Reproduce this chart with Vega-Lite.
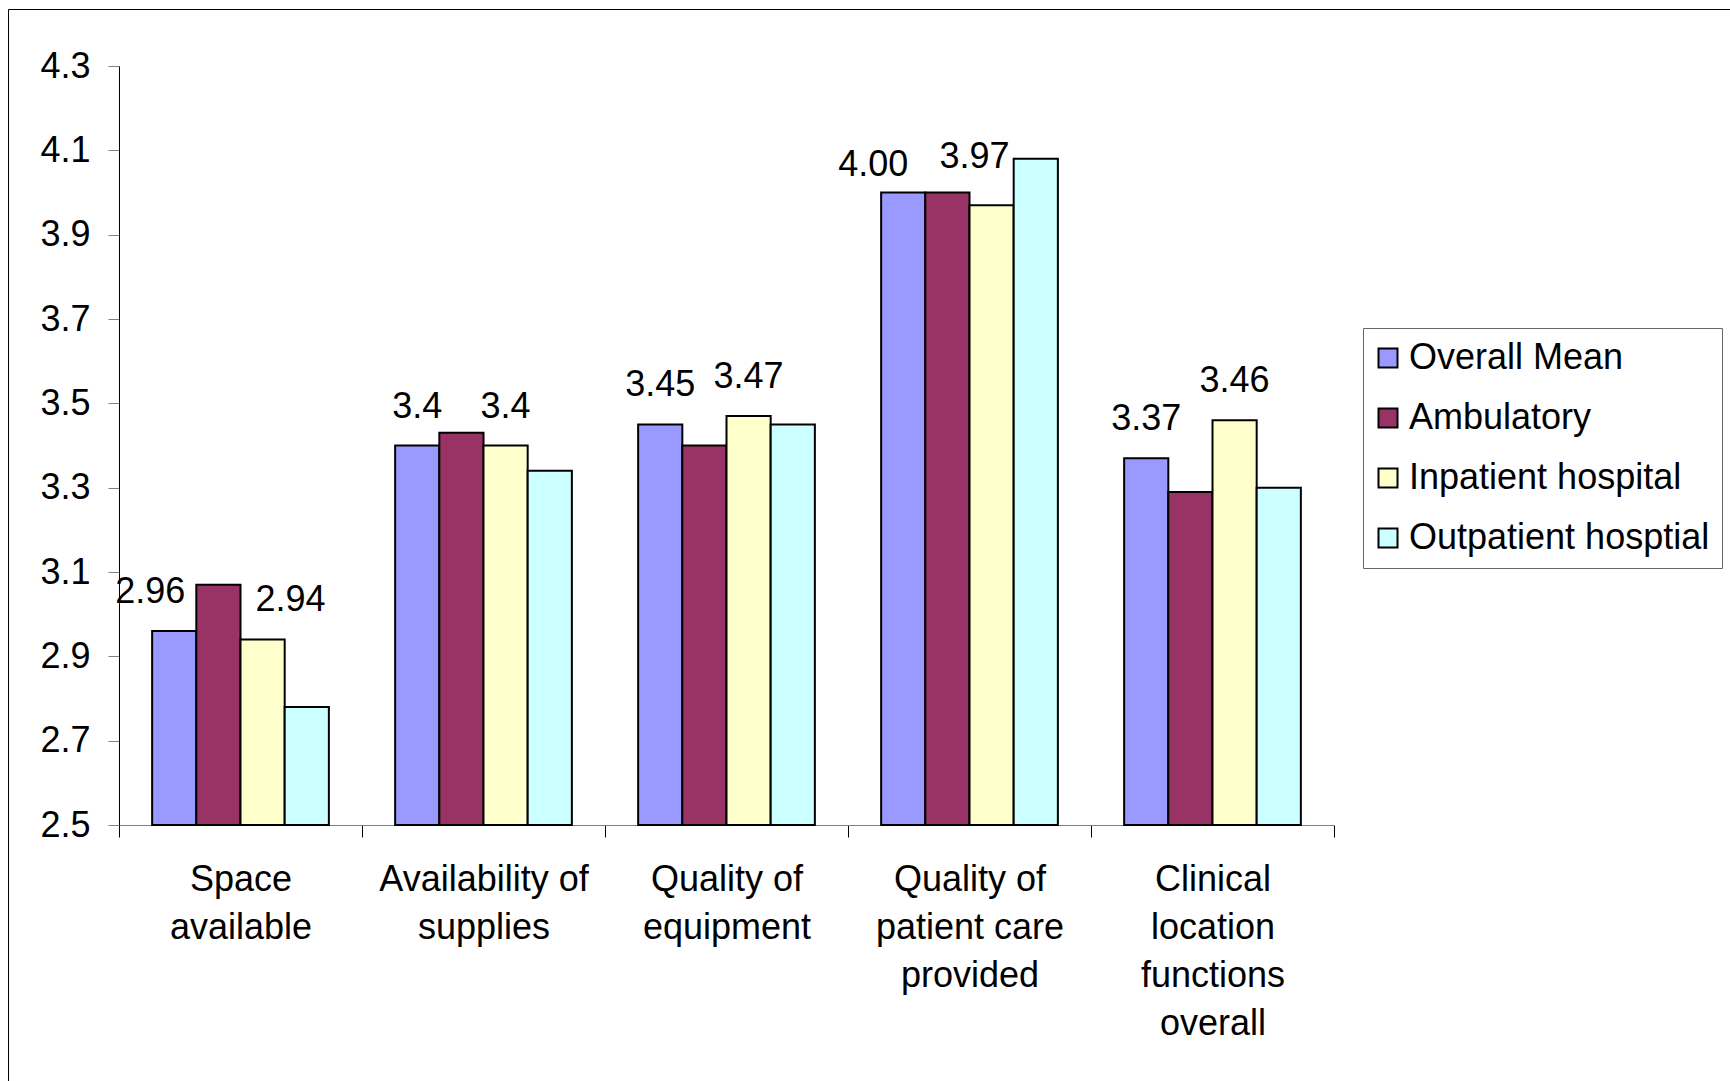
{
  "$schema": "https://vega.github.io/schema/vega-lite/v6.json",
  "autosize": {"type": "none"},
  "padding": {"left": 8, "top": 9, "right": -10, "bottom": -10},
  "width": 1732,
  "height": 1082,
  "background": "white",
  "config": {
    "view": {"stroke": "black", "strokeWidth": 1},
    "font": "Liberation Sans",
    "axis": {"grid": false, "labelFont": "Liberation Sans", "labelFontSize": 36, "labelColor": "black"},
    "text": {"font": "Liberation Sans", "fontSize": 36, "color": "black"}
  },
  "data": {
    "values": [
      {"Category": "Space|available", "Series": "Overall Mean", "Value": 2.96, "Label": "2.96"},
      {"Category": "Space|available", "Series": "Ambulatory", "Value": 3.07, "Label": null},
      {"Category": "Space|available", "Series": "Inpatient hospital", "Value": 2.94, "Label": "2.94"},
      {"Category": "Space|available", "Series": "Outpatient hosptial", "Value": 2.78, "Label": null},
      {"Category": "Availability of|supplies", "Series": "Overall Mean", "Value": 3.40, "Label": "3.4"},
      {"Category": "Availability of|supplies", "Series": "Ambulatory", "Value": 3.43, "Label": null},
      {"Category": "Availability of|supplies", "Series": "Inpatient hospital", "Value": 3.40, "Label": "3.4"},
      {"Category": "Availability of|supplies", "Series": "Outpatient hosptial", "Value": 3.34, "Label": null},
      {"Category": "Quality of|equipment", "Series": "Overall Mean", "Value": 3.45, "Label": "3.45"},
      {"Category": "Quality of|equipment", "Series": "Ambulatory", "Value": 3.40, "Label": null},
      {"Category": "Quality of|equipment", "Series": "Inpatient hospital", "Value": 3.47, "Label": "3.47"},
      {"Category": "Quality of|equipment", "Series": "Outpatient hosptial", "Value": 3.45, "Label": null},
      {"Category": "Quality of|patient care|provided", "Series": "Overall Mean", "Value": 4.00, "Label": "4.00"},
      {"Category": "Quality of|patient care|provided", "Series": "Ambulatory", "Value": 4.00, "Label": null},
      {"Category": "Quality of|patient care|provided", "Series": "Inpatient hospital", "Value": 3.97, "Label": "3.97"},
      {"Category": "Quality of|patient care|provided", "Series": "Outpatient hosptial", "Value": 4.08, "Label": null},
      {"Category": "Clinical|location|functions|overall", "Series": "Overall Mean", "Value": 3.37, "Label": "3.37"},
      {"Category": "Clinical|location|functions|overall", "Series": "Ambulatory", "Value": 3.29, "Label": null},
      {"Category": "Clinical|location|functions|overall", "Series": "Inpatient hospital", "Value": 3.46, "Label": "3.46"},
      {"Category": "Clinical|location|functions|overall", "Series": "Outpatient hosptial", "Value": 3.30, "Label": null}
    ]
  },
  "encoding": {
    "x": {
      "field": "Category", "type": "nominal", "sort": null,
      "scale": {"range": [111, 1326], "paddingInner": 0, "paddingOuter": 0},
      "axis": {
        "title": null, "labelAngle": 0, "labelExpr": "split(datum.label, '|')",
        "tickBand": "extent", "tickSize": 12, "tickColor": "black", "domainColor": "#808080",
        "labelPadding": 25, "labelLineHeight": 48, "offset": -266, "labelLimit": 500
      }
    },
    "xOffset": {
      "field": "Series", "type": "nominal",
      "sort": ["Overall Mean", "Ambulatory", "Inpatient hospital", "Outpatient hosptial"],
      "scale": {"paddingInner": 0, "paddingOuter": 0.75}
    },
    "y": {
      "field": "Value", "type": "quantitative",
      "scale": {"domain": [2.5, 4.3], "range": [816, 57], "zero": false, "nice": false},
      "axis": {
        "title": null, "values": [2.5, 2.7, 2.9, 3.1, 3.3, 3.5, 3.7, 3.9, 4.1, 4.3], "format": ".1f",
        "tickSize": 11, "tickColor": "#808080", "domainColor": "black", "labelPadding": 18, "offset": -111
      }
    }
  },
  "layer": [
    {
      "mark": {"type": "bar", "stroke": "black", "strokeWidth": 2},
      "encoding": {
        "y2": {"datum": 2.5},
        "color": {
          "field": "Series", "type": "nominal",
          "scale": {"domain": ["Overall Mean", "Ambulatory", "Inpatient hospital", "Outpatient hosptial"], "range": ["#9999FF", "#993366", "#FFFFCC", "#CCFFFF"]},
          "legend": {
            "orient": "none", "legendX": 1355, "legendY": 319, "title": null, "direction": "vertical",
            "strokeColor": "#666666", "fillColor": "white", "padding": 12,
            "symbolType": "square", "symbolSize": 361, "symbolStrokeColor": "black", "symbolStrokeWidth": 2, "symbolOpacity": 1, "symbolOffset": -5,
            "labelFont": "Liberation Sans", "labelFontSize": 36, "labelColor": "black", "labelLimit": 600, "labelOffset": 3, "rowPadding": 24
          }
        }
      }
    },
    {
      "transform": [{"filter": "datum.Label != null && datum.Label != '2.96' && datum.Label != '2.94' && datum.Label != '4.00' && datum.Label != '3.97'"}],
      "mark": {"type": "text", "dy": -28, "baseline": "alphabetic", "align": "center"},
      "encoding": {"text": {"field": "Label"}}
    },
    {
      "transform": [{"filter": "datum.Label == '2.96'"}],
      "mark": {"type": "text", "dx": -24, "dy": -28, "baseline": "alphabetic", "align": "center"},
      "encoding": {"text": {"field": "Label"}}
    },
    {
      "transform": [{"filter": "datum.Label == '2.94'"}],
      "mark": {"type": "text", "dx": 28, "dy": -28, "baseline": "alphabetic", "align": "center"},
      "encoding": {"text": {"field": "Label"}}
    },
    {
      "transform": [{"filter": "datum.Label == '4.00'"}],
      "mark": {"type": "text", "dx": -30, "dy": -17, "baseline": "alphabetic", "align": "center"},
      "encoding": {"text": {"field": "Label"}}
    },
    {
      "transform": [{"filter": "datum.Label == '3.97'"}],
      "mark": {"type": "text", "dx": -17, "dy": -37, "baseline": "alphabetic", "align": "center"},
      "encoding": {"text": {"field": "Label"}}
    }
  ]
}
